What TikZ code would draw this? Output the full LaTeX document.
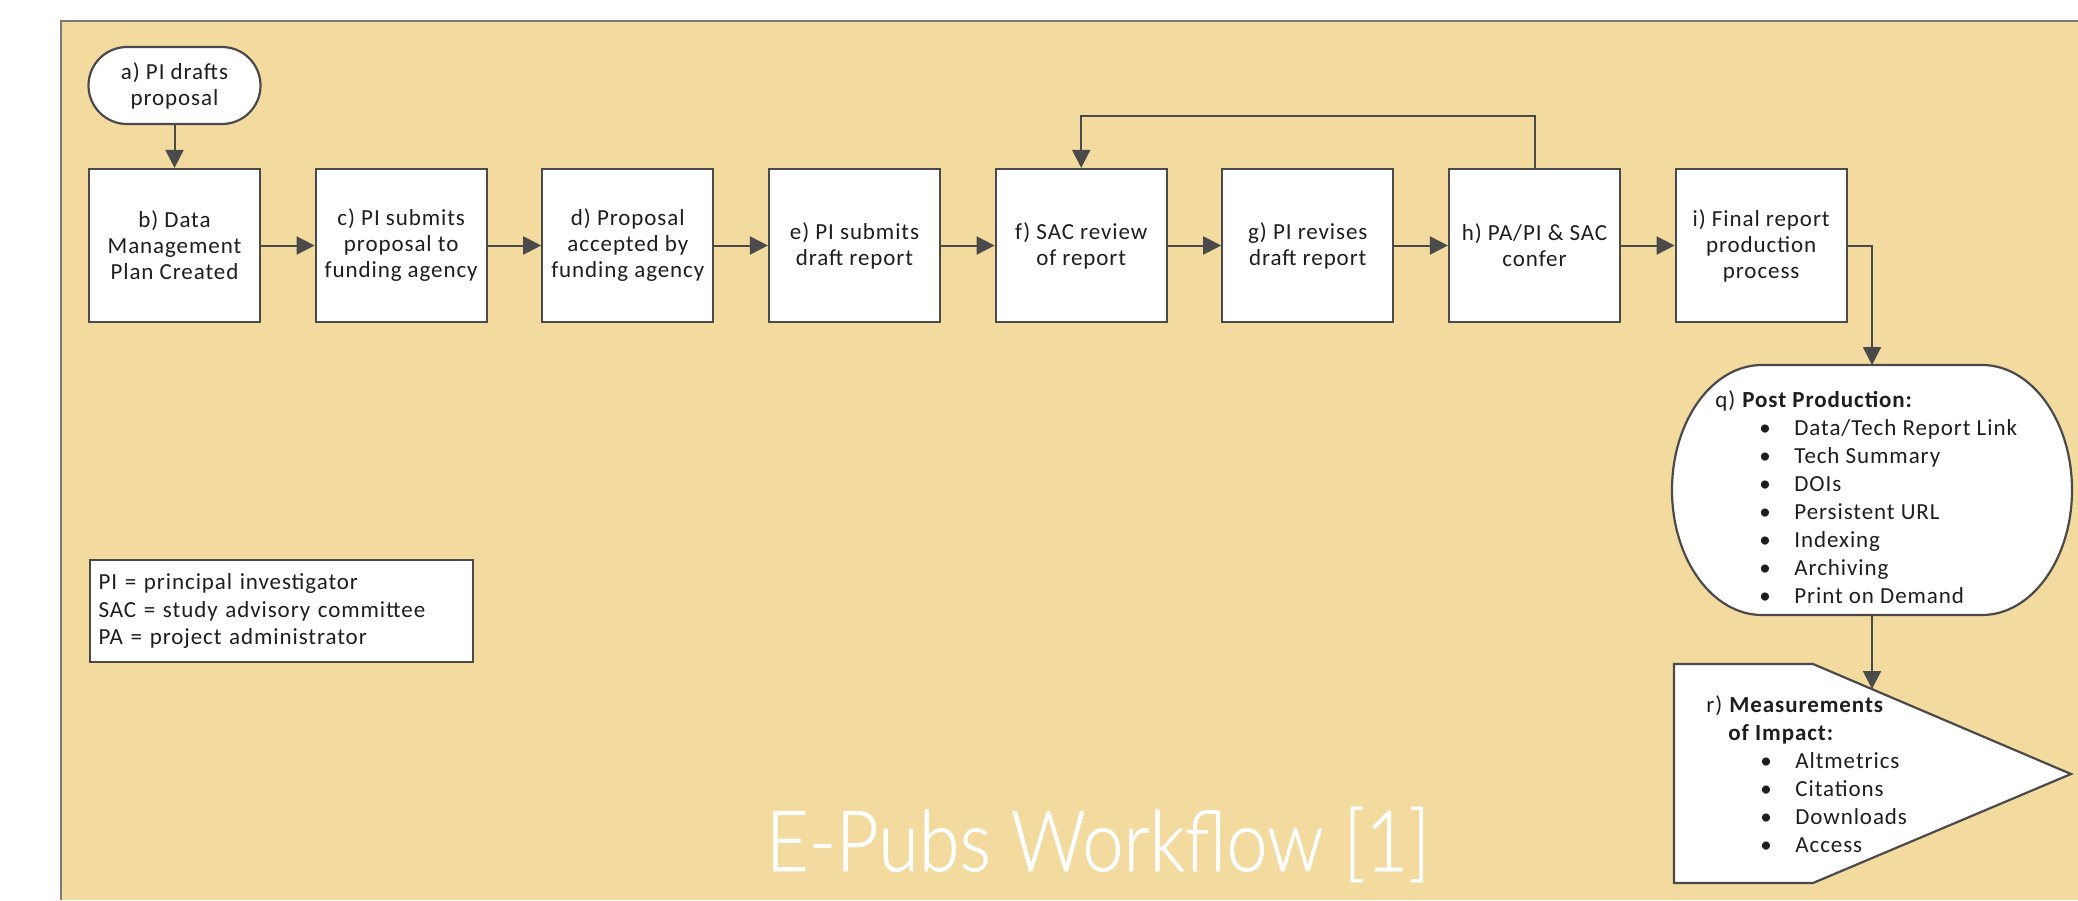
\documentclass[tikz,border=0pt]{standalone}
\usepackage{fontspec}
\usepackage{graphicx}
\setmainfont{Carlito}[LetterSpace=4]
\IfFontExistsTF{Lato Light}{\newfontfamily\titlefont{Lato Light}[FakeBold=0.8]}{\newfontfamily\titlefont{Lato}}
\usetikzlibrary{arrows.meta}
\definecolor{bg}{HTML}{F3DB9F}
\definecolor{edge}{HTML}{4A4A4A}
\definecolor{frameline}{HTML}{7A7A7A}
\definecolor{ink}{HTML}{1E1E1E}
\newcommand\qitem[1]{\hbox{\makebox[39.5pt][l]{\hspace*{22pt}\textbullet}#1}}
\newcommand\ritem[1]{\hbox{\makebox[44.5pt][l]{\hspace*{27pt}\textbullet}#1}}
\begin{document}
\begin{tikzpicture}[x=0.5pt,y=-0.5pt,
  txt/.style={font=\fontsize{11.5}{13}\selectfont, text=ink},
  stepbox/.style={txt, draw=edge, fill=white, line width=1.1pt, minimum width=85.5pt, minimum height=76.5pt, align=center, inner sep=2pt},
  term/.style={txt, draw=edge, fill=white, line width=1.1pt, minimum width=86pt, minimum height=38.5pt, rounded corners=19.25pt, align=center, inner sep=2pt},
  arr/.style={draw=edge, line width=1pt, -{Triangle[length=9pt,width=9pt]}},
  shapeline/.style={draw=edge, fill=white, line width=1.1pt},
  listtext/.style={font=\fontsize{11.5}{14}\selectfont, text=ink, inner sep=0pt, anchor=base west}
]
\useasboundingbox (0,0) rectangle (2078,900);
\fill[white] (0,0) rectangle (2078,900);
\fill[bg] (61,21) rectangle (2078,900);
\draw[frameline, line width=1.2pt] (61,900) -- (61,21) -- (2078,21);

% process row
\node[term] (a) at (174.5,85.5) {a) PI drafts\\proposal};
\node[stepbox] (b) at (174.5,245.5) {b) Data\\Management\\Plan Created};
\node[stepbox] (c) at (401.2,245.5) {c) PI submits\\proposal to\\funding agency};
\node[stepbox] (d) at (627.8,245.5) {d) Proposal\\accepted by\\funding agency};
\node[stepbox] (e) at (854.5,245.5) {e) PI submits\\draft report};
\node[stepbox] (f) at (1081.2,245.5) {f) SAC review\\of report};
\node[stepbox] (g) at (1307.8,245.5) {g) PI revises\\draft report};
\node[stepbox] (h) at (1534.5,245.5) {h) PA/PI \& SAC\\confer};
\node[stepbox] (i) at (1761.2,245.5) {i) Final report\\production\\process};

\draw[arr] (a) -- (b);
\draw[arr] (b) -- (c);
\draw[arr] (c) -- (d);
\draw[arr] (d) -- (e);
\draw[arr] (e) -- (f);
\draw[arr] (f) -- (g);
\draw[arr] (g) -- (h);
\draw[arr] (h) -- (i);
\draw[arr] (h.north) -- ++(0,-52) -| (f.north);

% post production
\draw[shapeline] (1762,365) arc[start angle=90, end angle=270, x radius=45pt, y radius=62.5pt]
  -- (1982,615) arc[start angle=-90, end angle=90, x radius=45pt, y radius=62.5pt] -- cycle;
\node[listtext] (q) at (1715,407) {\vtop{%
  \hbox{q) \textbf{Post Production:}}
  \qitem{Data/Tech Report Link}
  \qitem{Tech Summary}
  \qitem{DOIs}
  \qitem{Persistent URL}
  \qitem{Indexing}
  \qitem{Archiving}
  \qitem{Print on Demand}}};

% measurements
\draw[shapeline] (1674,664) -- (1813,664) -- (2071,774) -- (1813,883) -- (1674,883) -- cycle;
\node[listtext] (r) at (1706,712) {\vtop{%
  \hbox{r) \textbf{Measurements}}
  \hbox{\hspace*{11pt}\textbf{of Impact:}}
  \ritem{Altmetrics}
  \ritem{Citations}
  \ritem{Downloads}
  \ritem{Access}}};

\coordinate (qtop) at (1872,365);
\coordinate (qbot) at (1872,615);
\coordinate (rin) at (1872,689);
\draw[arr] (i.east) -| (qtop);
\draw[arr] (qbot) -- (rin);

% legend
\node[draw=edge, fill=white, line width=1.1pt, anchor=north west, minimum width=191.5pt, minimum height=51pt, text width=183pt, align=left, inner xsep=4pt, font=\fontsize{11.5}{13.75}\selectfont, text=ink] (legend) at (89,559) {PI = principal investigator\\SAC = study advisory committee\\PA = project administrator};

% title
\node[text=white, inner sep=0pt, anchor=base] (title) at (1098,871) {\resizebox{332pt}{32pt}{\titlefont E-Pubs Workflow [1]}};
\end{tikzpicture}
\end{document}
